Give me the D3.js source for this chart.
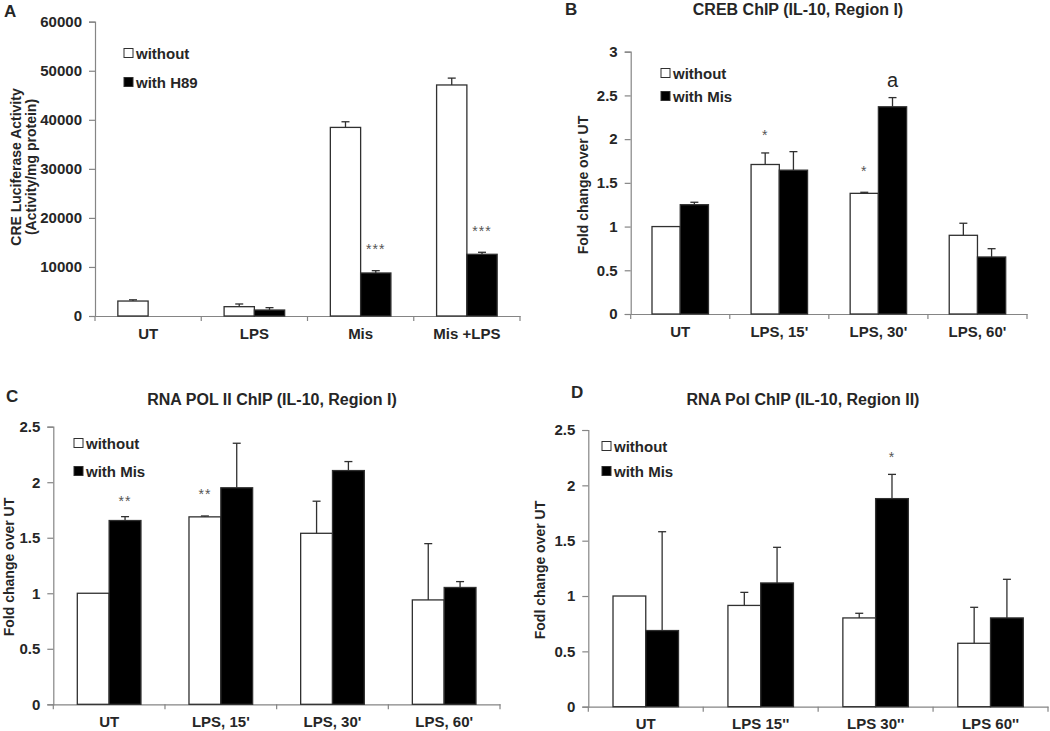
<!DOCTYPE html>
<html><head><meta charset="utf-8">
<script src="https://cdn.jsdelivr.net/npm/d3@7"></script>
<style>body{margin:0;background:#fff}svg{display:block;font-family:"Liberation Sans",Arial,sans-serif}</style>
</head><body><svg id="c" width="1050" height="731"></svg>
<script>
// ---- data ----
const seriesA = ["without", "with H89"];
const seriesMis = ["without", "with Mis"];
const catsA = ["UT", "LPS", "Mis", "Mis +LPS"];
const catsB = ["UT", "LPS, 15'", "LPS, 30'", "LPS, 60'"];
const catsC = ["UT", "LPS, 15'", "LPS, 30'", "LPS, 60'"];
const catsD = ["UT", "LPS 15''", "LPS 30''", "LPS 60''"];

const valsA_without = [3050, 1900, 38450, 47100];
const valsA_with = [null, 1220, 8770, 12580];
const errA_without = [3300, 2450, 39600, 48500];
const errA_with = [null, 1700, 9240, 12990];

const valsB_without = [1.0, 1.71, 1.38, 0.9];
const valsB_with = [1.25, 1.645, 2.37, 0.652];
const errB_without = [null, 1.842, 1.392, 1.038];
const errB_with = [1.278, 1.857, 2.475, 0.747];

const valsC_without = [1.0, 1.688, 1.54, 0.94];
const valsC_with = [1.655, 1.95, 2.105, 1.052];
const errC_without = [null, 1.696, 1.829, 1.447];
const errC_with = [1.69, 2.351, 2.186, 1.105];

const valsD_without = [1.0, 0.915, 0.802, 0.573];
const valsD_with = [0.688, 1.118, 1.88, 0.802];
const errD_without = [null, 1.033, 0.844, 0.898];
const errD_with = [1.581, 1.44, 2.099, 1.151];

const ticksA = [0, 10000, 20000, 30000, 40000, 50000, 60000];
const ticksB = [0, 0.5, 1, 1.5, 2, 2.5, 3];
const ticksCD = [0, 0.5, 1, 1.5, 2, 2.5];

const notesA = [{cat: 2, s: 1, text: "***", v: 12640}, {cat: 3, s: 1, text: "***", v: 16310}];
const notesB = [{cat: 1, s: 0, text: "*", v: 1.985}, {cat: 2, s: 0, text: "*", v: 1.579}, {cat: 2, s: 1, text: "a", v: 2.597, big: true}];
const notesC = [{cat: 0, s: 1, text: "**", v: 1.786}, {cat: 1, s: 0, text: "**", v: 1.845}];
const notesD = [{cat: 2, s: 1, text: "*", v: 2.21}];

// ---- layout ----
const panels = [
  {letter: "A", lx: 4, ly: 17, title: null,
   x0: 95, x1: 520, yTop: 21.7, yBot: 316, max: 60000, ticks: ticksA,
   cats: catsA, series: seriesA, vals: [valsA_without, valsA_with], errs: [errA_without, errA_with], notes: notesA,
   ylab: ["CRE Luciferase Activity", "(Activity/mg protein)"], ylx: [21, 36], yly: 167,
   leg: {x: 124, y: [53, 82]}},
  {letter: "B", lx: 565, ly: 15, title: "CREB ChIP (IL-10, Region I)", tx: 798, ty: 14.5,
   x0: 630.7, x1: 1027, yTop: 51.7, yBot: 314, max: 3, ticks: ticksB,
   cats: catsB, series: seriesMis, vals: [valsB_without, valsB_with], errs: [errB_without, errB_with], notes: notesB,
   ylab: ["Fold change over UT"], ylx: [587.5], yly: 185,
   leg: {x: 661, y: [73, 96]}},
  {letter: "C", lx: 6, ly: 402, title: "RNA POL II ChIP (IL-10, Region I)", tx: 272, ty: 405,
   x0: 53.3, x1: 500, yTop: 426.7, yBot: 704.3, max: 2.5, ticks: ticksCD,
   cats: catsC, series: seriesMis, vals: [valsC_without, valsC_with], errs: [errC_without, errC_with], notes: notesC,
   ylab: ["Fold change over UT"], ylx: [13.5], yly: 567,
   leg: {x: 74, y: [443, 471]}},
  {letter: "D", lx: 571, ly: 398, title: "RNA Pol ChIP (IL-10, Region II)", tx: 803, ty: 405,
   x0: 588.3, x1: 1048, yTop: 430, yBot: 706.7, max: 2.5, ticks: ticksCD,
   cats: catsD, series: seriesMis, vals: [valsD_without, valsD_with], errs: [errD_without, errD_with], notes: notesD,
   ylab: ["Fodl change over UT"], ylx: [545], yly: 570,
   leg: {x: 602, y: [446, 471]}}
];

const svg = d3.select("#c");
const TXT = "#262626", AX = "#858585", BAR = "#303030";
const fills = ["#fff", "#000"];

panels.forEach(p => {
  const g = svg.append("g");
  const x = d3.scaleBand().domain(p.cats.map((d, i) => i)).range([p.x0, p.x1]).padding(0);
  const bw = x.bandwidth();
  const f = 0.57;
  const xs = d3.scaleBand().domain([0, 1]).range([(1 - f) / 2 * bw, (1 + f) / 2 * bw]).padding(0);
  const y = d3.scaleLinear().domain([0, p.max]).range([p.yBot, p.yTop]);

  // y axis
  const ya = g.append("g").attr("transform", `translate(${p.x0},0)`)
    .call(d3.axisLeft(y).tickValues(p.ticks).tickSize(6).tickPadding(7).tickFormat(d3.format("")));
  ya.select(".domain").attr("stroke", AX).attr("stroke-width", 1.2);
  ya.selectAll(".tick line").attr("stroke", AX).attr("stroke-width", 1.2);
  ya.selectAll("text").attr("font-size", 15).attr("font-weight", "bold").attr("fill", TXT).attr("font-family", "Liberation Sans, Arial, sans-serif");

  // x axis
  const xa = g.append("g").attr("transform", `translate(0,${p.yBot})`)
    .call(d3.axisBottom(x).tickSize(0).tickPadding(12).tickFormat(i => p.cats[i]));
  xa.select(".domain").attr("stroke", AX).attr("stroke-width", 1.2);
  xa.selectAll("text").attr("font-size", 15).attr("font-weight", "bold").attr("fill", TXT).attr("font-family", "Liberation Sans, Arial, sans-serif");
  const bounds = p.cats.map((d, i) => x(i)).concat([x(p.cats.length - 1) + bw]);
  g.selectAll(".bt").data(bounds).enter().append("line")
    .attr("x1", d => d).attr("x2", d => d).attr("y1", p.yBot).attr("y2", p.yBot + 5)
    .attr("stroke", AX).attr("stroke-width", 1.2);

  // bars
  p.vals.forEach((vals, s) => {
    g.selectAll(".b" + s).data(vals.map((v, i) => ({v, i}))).enter()
      .filter(d => d.v != null)
      .append("rect")
      .attr("x", d => x(d.i) + xs(s)).attr("width", xs.bandwidth())
      .attr("y", d => y(d.v)).attr("height", d => p.yBot - y(d.v))
      .attr("fill", fills[s]).attr("stroke", BAR).attr("stroke-width", 1.3);
    const errs = p.errs[s];
    const ed = vals.map((v, i) => ({v, e: errs[i], i})).filter(d => d.v != null && d.e != null);
    ed.forEach(d => {
      const cx = x(d.i) + xs(s) + xs.bandwidth() / 2;
      g.append("line").attr("x1", cx).attr("x2", cx).attr("y1", y(d.v)).attr("y2", y(d.e))
        .attr("stroke", BAR).attr("stroke-width", 1.3);
      g.append("line").attr("x1", cx - 4).attr("x2", cx + 4).attr("y1", y(d.e)).attr("y2", y(d.e))
        .attr("stroke", BAR).attr("stroke-width", 1.3);
    });
  });

  // notes
  p.notes.forEach(n => {
    const cx = x(n.cat) + xs(n.s) + xs.bandwidth() / 2;
    g.append("text").attr("x", cx).attr("y", y(n.v)).attr("text-anchor", "middle")
      .attr("font-size", n.big ? 20 : 14).attr("fill", n.big ? TXT : "#555")
      .attr("letter-spacing", n.big ? 0 : 1)
      .text(n.text);
  });

  // legend
  p.series.forEach((s, i) => {
    const cy = p.leg.y[i];
    g.append("rect").attr("x", p.leg.x).attr("y", cy - 4.5).attr("width", 9).attr("height", 9)
      .attr("fill", fills[i]).attr("stroke", BAR).attr("stroke-width", 1);
    g.append("text").attr("x", p.leg.x + 12).attr("y", cy + 5.5).attr("font-size", 15)
      .attr("font-weight", "bold").attr("fill", TXT).text(s);
  });

  // y label
  p.ylab.forEach((t, i) => {
    g.append("text").attr("transform", `translate(${p.ylx[i]},${p.yly}) rotate(-90)`)
      .attr("text-anchor", "middle").attr("font-size", 14).attr("font-weight", "bold")
      .attr("fill", TXT).text(t);
  });

  // title and letter
  if (p.title) g.append("text").attr("x", p.tx).attr("y", p.ty).attr("text-anchor", "middle")
    .attr("font-size", 16).attr("font-weight", "bold").attr("fill", TXT).text(p.title);
  g.append("text").attr("x", p.lx).attr("y", p.ly).attr("font-size", 17).attr("font-weight", "bold")
    .attr("fill", TXT).text(p.letter);
});
</script></body></html>
